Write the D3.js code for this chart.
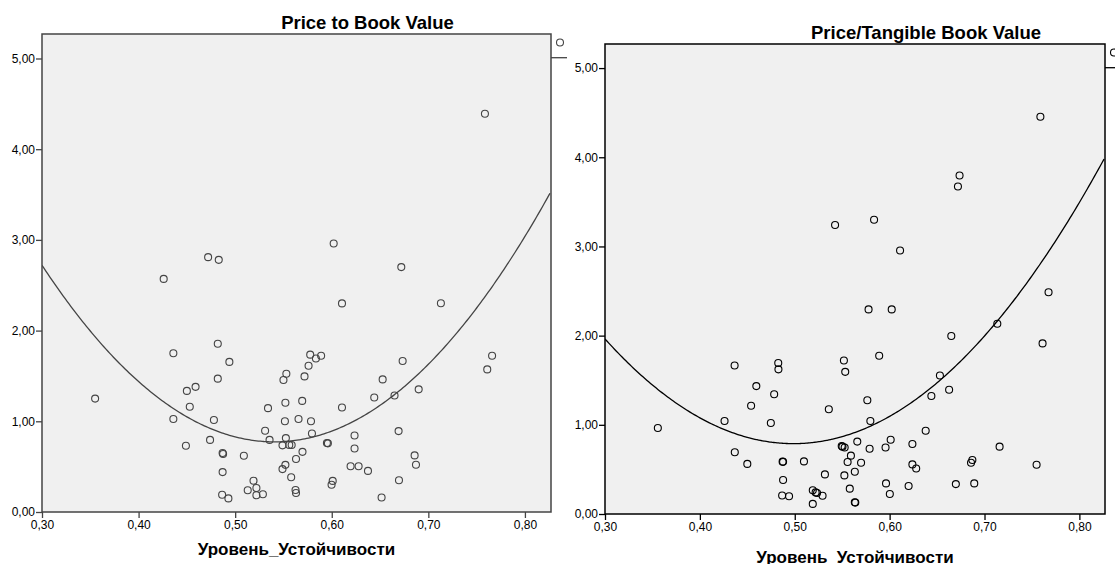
<!DOCTYPE html>
<html>
<head>
<meta charset="utf-8">
<script src="https://cdn.jsdelivr.net/npm/d3@7"></script>
<style>
  html, body { margin: 0; padding: 0; background: #fff; }
  svg { display: block; font-family: "Liberation Sans", Arial, sans-serif; }
</style>
</head>
<body>
<svg id="chart" width="1115" height="564"></svg>
<script>
// Уровень_Устойчивости vs Price to Book Value (observed)
const ptbX = [0.355, 0.426, 0.436, 0.436, 0.449, 0.450, 0.453, 0.459, 0.472, 0.474,
  0.478, 0.482, 0.482, 0.483, 0.487, 0.4875, 0.487, 0.4865, 0.493, 0.494,
  0.509, 0.513, 0.519, 0.522, 0.522, 0.5287, 0.531, 0.534, 0.5356, 0.549,
  0.549, 0.550, 0.5515, 0.552, 0.552, 0.553, 0.5525, 0.556, 0.5585, 0.558,
  0.5625, 0.563, 0.563, 0.5656, 0.5697, 0.5694, 0.5718, 0.576, 0.5777, 0.5785,
  0.5795, 0.5836, 0.589, 0.595, 0.596, 0.5998, 0.601, 0.602, 0.6106, 0.6106,
  0.6195, 0.6236, 0.6236, 0.6278, 0.6375, 0.644, 0.6516, 0.6527, 0.665, 0.6692,
  0.6696, 0.672, 0.6734, 0.6858, 0.6872, 0.690, 0.713, 0.7586, 0.761, 0.766];
const ptbY = [1.25, 2.57, 1.75, 1.025, 0.73, 1.335, 1.16, 1.38, 2.81, 0.795,
  1.015, 1.855, 1.47, 2.78, 0.65, 0.64, 0.44, 0.19, 0.15, 1.655,
  0.62, 0.24, 0.345, 0.265, 0.185, 0.195, 0.895, 1.145, 0.795, 0.735,
  0.473, 1.455, 1.0, 1.205, 0.52, 1.525, 0.815, 0.74, 0.738, 0.383,
  0.243, 0.21, 0.585, 1.025, 0.663, 1.225, 1.495, 1.612, 1.735, 1.0,
  0.865, 1.692, 1.722, 0.76, 0.757, 0.30, 0.343, 2.96, 2.30, 1.152,
  0.505, 0.843, 0.70, 0.505, 0.453, 1.262, 0.16, 1.462, 1.284, 0.892,
  0.35, 2.70, 1.664, 0.624, 0.521, 1.352, 2.302, 4.39, 1.572, 1.722];

// Уровень_Устойчивости vs Price/Tangible Book Value (observed)
const ptbvX = [0.3557, 0.426, 0.4366, 0.4368, 0.450, 0.454, 0.4595, 0.4748, 0.4783, 0.4826,
  0.4828, 0.4872, 0.4877, 0.4877, 0.4867, 0.494, 0.5097, 0.519, 0.519, 0.522,
  0.5235, 0.5293, 0.5318, 0.5359, 0.5425, 0.5495, 0.5503, 0.5526, 0.5518, 0.5532,
  0.5523, 0.5557, 0.558, 0.5592, 0.5633, 0.5633, 0.5638, 0.5659, 0.5699, 0.5765,
  0.5778, 0.5789, 0.5797, 0.5836, 0.589, 0.5957, 0.5962, 0.6002, 0.6011, 0.6022,
  0.611, 0.620, 0.624, 0.624, 0.628, 0.638, 0.644, 0.653, 0.6627, 0.665,
  0.672, 0.6737, 0.6698, 0.6858, 0.6872, 0.6892, 0.7135, 0.7159, 0.7549, 0.7589,
  0.7612, 0.7675];
const ptbvY = [0.964, 1.043, 1.665, 0.693, 0.562, 1.214, 1.434, 1.021, 1.343, 1.693,
  1.622, 0.587, 0.585, 0.381, 0.208, 0.199, 0.59, 0.113, 0.267, 0.242,
  0.236, 0.204, 0.444, 1.174, 3.24, 0.763, 0.755, 0.745, 1.722, 1.594,
  0.433, 0.583, 0.284, 0.654, 0.474, 0.131, 0.128, 0.812, 0.574, 1.275,
  2.294, 0.732, 1.043, 3.30, 1.774, 0.745, 0.343, 0.224, 0.833, 2.294,
  2.955, 0.314, 0.785, 0.556, 0.511, 0.934, 1.323, 1.553, 1.394, 1.996,
  3.673, 3.796, 0.335, 0.574, 0.605, 0.343, 2.134, 0.755, 0.553, 4.454,
  1.913, 2.486];

// quadratic fit lines, [b0, b1, b2]
const ptbQuad = [10.606, -36.38, 33.65];
const ptbvQuad = [8.19, -29.687, 29.77];

const xTicks = [0.30, 0.40, 0.50, 0.60, 0.70, 0.80];
const yTicks = [0, 1, 2, 3, 4, 5];
const xDomain = [0.30, 0.827];
const yDomain = [0, 5.27];
const xTitle = 'Уровень_Устойчивости';

const svg = d3.select('#chart');
const fmt = v => d3.format('.2f')(v).replace('.', ',');

function drawPanel(id, title, xs, ys, quad, box) {
  if (box.clip) {
    svg.append('clipPath').attr('id', `${id}-outer`)
      .append('rect').attr('x', 0).attr('y', 0).attr('width', box.clip).attr('height', 564);
  }
  const g = svg.append('g').attr('clip-path', box.clip ? `url(#${id}-outer)` : null);

  const x = d3.scaleLinear().domain(xDomain).range([box.left, box.right]);
  const y = d3.scaleLinear().domain(yDomain).range([box.bottom, box.top]);

  // plot background
  g.append('rect')
    .attr('x', box.left).attr('y', box.top)
    .attr('width', box.right - box.left).attr('height', box.bottom - box.top)
    .attr('fill', '#f0f0f0');

  svg.append('clipPath').attr('id', `${id}-plot`)
    .append('rect')
    .attr('x', box.left).attr('y', box.top)
    .attr('width', box.right - box.left).attr('height', box.bottom - box.top);

  // axes
  const yAxis = g.append('g')
    .attr('transform', `translate(${box.left},0)`)
    .call(d3.axisLeft(y).tickValues(yTicks).tickFormat(fmt).tickSize(6).tickSizeOuter(0).tickPadding(1));
  const xAxis = g.append('g')
    .attr('transform', `translate(0,${box.bottom})`)
    .call(d3.axisBottom(x).tickValues(xTicks).tickFormat(fmt).tickSize(6).tickSizeOuter(0).tickPadding(2));

  [yAxis, xAxis].forEach(a => {
    a.select('.domain').remove();
    a.selectAll('line').attr('stroke', box.ink).attr('stroke-width', 1.3);
    a.selectAll('text').attr('fill', '#000').attr('font-size', 12)
      .attr('font-family', '"Liberation Sans", Arial, sans-serif');
  });

  // points
  const plot = g.append('g').attr('clip-path', `url(#${id}-plot)`);
  plot.selectAll('circle')
    .data(xs.map((v, i) => [v, ys[i]]))
    .enter()
    .append('circle')
    .attr('cx', d => x(d[0]))
    .attr('cy', d => y(d[1]))
    .attr('r', 3.5)
    .attr('fill', 'none')
    .attr('stroke', box.ink)
    .attr('stroke-width', 1.1);

  // quadratic curve
  const curveX = d3.range(xDomain[0], xDomain[1] + 0.001, 0.002);
  const line = d3.line()
    .x(d => x(d))
    .y(d => y(quad[0] + quad[1] * d + quad[2] * d * d))
    .curve(d3.curveMonotoneX);
  plot.append('path')
    .attr('d', line(curveX))
    .attr('fill', 'none')
    .attr('stroke', box.ink)
    .attr('stroke-width', 1.3);

  // frame
  g.append('rect')
    .attr('x', box.left).attr('y', box.top)
    .attr('width', box.right - box.left).attr('height', box.bottom - box.top)
    .attr('fill', 'none')
    .attr('stroke', box.ink)
    .attr('stroke-width', 1.5);

  // legend stub (cut off at the right)
  g.append('circle')
    .attr('cx', box.right + 9).attr('cy', box.top + 8.5)
    .attr('r', 3.5).attr('fill', 'none')
    .attr('stroke', box.ink).attr('stroke-width', 1.1);
  g.append('line')
    .attr('x1', box.right).attr('x2', box.right + 30)
    .attr('y1', box.top + 23.7).attr('y2', box.top + 23.7)
    .attr('stroke', box.ink).attr('stroke-width', 1.3);

  // titles
  g.append('text')
    .attr('x', (box.left + box.right) / 2 + 71)
    .attr('y', box.titleY)
    .attr('text-anchor', 'middle')
    .attr('font-size', 18.5).attr('font-weight', 'bold')
    .text(title);

  g.append('text')
    .attr('x', (box.left + box.right) / 2)
    .attr('y', box.xTitleY)
    .attr('text-anchor', 'middle')
    .attr('font-size', 17).attr('font-weight', 'bold')
    .text(xTitle);
}

drawPanel('ptb', 'Price to Book Value', ptbX, ptbY, ptbQuad, {
  left: 42, right: 551, top: 34, bottom: 512,
  titleY: 29, xTitleY: 555, clip: 567, ink: '#444'
});

drawPanel('ptbv', 'Price/Tangible Book Value', ptbvX, ptbvY, ptbvQuad, {
  left: 605, right: 1105, top: 44, bottom: 514,
  titleY: 39, xTitleY: 562.5, clip: null, ink: '#000'
});
</script>
</body>
</html>
